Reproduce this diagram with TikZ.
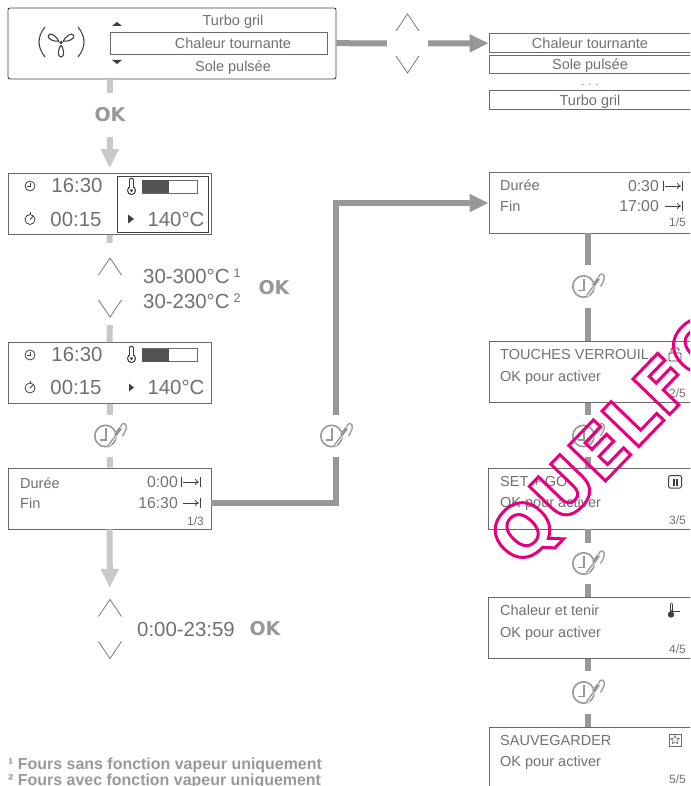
\documentclass[tikz,border=0pt]{standalone}
\usepackage{xcolor}
\usepackage{fontspec}
\setmainfont{Liberation Sans}
\newfontfamily\okfont{DejaVu Sans}[BoldFont={* Bold}]
\usetikzlibrary{arrows.meta,shapes.geometric}

\definecolor{boxgray}{HTML}{6A6A6C}
\definecolor{textgray}{HTML}{707072}
\definecolor{darkflow}{HTML}{98989B}
\definecolor{lightflow}{HTML}{C9C9CB}
\definecolor{iconblack}{HTML}{404042}
\definecolor{stamp}{HTML}{E6007E}

\tikzset{
  screen/.style={draw=boxgray, line width=0.8, inner sep=0, minimum width=203, minimum height=61},
  listbox/.style={draw=boxgray, line width=0.8, inner sep=0, minimum width=203, minimum height=19},
  txt/.style={inner sep=0, text=textgray, text depth=0, text height=10.4, font=\fontsize{14.5}{14.5}\selectfont},
  bigtxt/.style={inner sep=0, text=textgray, text depth=0, text height=14.4, font=\fontsize{20.4}{20.4}\selectfont},
  pagetxt/.style={inner sep=0, text=textgray, anchor=east, font=\fontsize{12}{12}\selectfont},
  oktxt/.style={inner sep=0, text=darkflow, font=\okfont\bfseries\fontsize{19}{19}\selectfont},
  notetxt/.style={inner sep=0, anchor=west, text=darkflow, font=\bfseries\fontsize{15.95}{15.95}\selectfont},
  gap/.style={inner sep=0, minimum width=41, minimum height=82},
  flow/.style={line width=6, darkflow},
  flowlight/.style={line width=6, lightflow},
  flowtip/.style={-{Triangle[width=17,length=19]}},
  chevron/.style={draw=boxgray, line width=0.7},
  icon/.style={iconblack, line width=0.8}
}

% pair of up and down keys
\newcommand{\updown}[2]{
  \draw[chevron] (#1-11.5,#2-12.5) -- (#1,#2-29.5) -- (#1+11.5,#2-12.5);
  \draw[chevron] (#1-11.5,#2+12.5) -- (#1,#2+29.5) -- (#1+11.5,#2+12.5);
}
% clock and probe symbol beside a gap node
\newcommand{\probeicon}[1]{
  \begin{scope}[shift={(#1)}, xshift=-4.5]
    \draw[darkflow, line width=1.6] (0,0) circle (10.7);
    \draw[darkflow, line width=1.5] (0.5,-8) -- (0.5,4) -- (-6,4);
    \draw[white, line width=3.5] (3,9) -- (15,-8);
    \draw[darkflow, line width=1.3] (3,9) -- (12,-3);
    \draw[darkflow, line width=3.4] (10,-1) -- (15,-8);
    \draw[darkflow, line width=1.3] (15,-9) .. controls (16,-14) and (22,-14) .. (20.5,-7) .. controls (20,-4) and (18,-2) .. (17,0);
  \end{scope}
}
\newcommand{\clockicon}[2]{
  \draw[icon] (#1,#2) circle (5);
  \draw[icon] (#1,#2-3) -- (#1,#2) -- (#1-3,#2);
}
\newcommand{\watchicon}[2]{
  \draw[icon] (#1,#2) circle (5);
  \draw[icon] (#1,#2-5) -- (#1,#2-7);
  \draw[icon] (#1,#2) -- (#1+3,#2-3);
}
\newcommand{\thermoglass}[2]{
  \draw[iconblack, line width=4.6, line cap=round] (#1,#2-7) -- (#1,#2+3);
  \fill[iconblack] (#1,#2+3.5) circle (4.6);
  \draw[white, line width=2.4, line cap=round] (#1,#2-7) -- (#1,#2+3);
  \fill[white] (#1,#2+3.5) circle (3.3);
  \fill[iconblack] (#1,#2+3.5) circle (1.6);
}
\newcommand{\thermobar}[2]{
  \thermoglass{#1+1.5}{#2}
  \draw[boxgray, line width=0.6] (#1+12,#2-6.5) rectangle (#1+67,#2+6.5);
  \fill[iconblack!90] (#1+12,#2-6.5) rectangle (#1+39,#2+6.5);
}
\newcommand{\stopmark}[2]{
  \draw[icon, -{To[length=4,width=6]}] (#1,#2) -- (#1+16,#2);
  \draw[icon] (#1+17,#2-5) -- (#1+17,#2+5);
}
\newcommand{\startmark}[2]{
  \draw[icon] (#1,#2-5) -- (#1,#2+5);
}

\begin{document}
\begin{tikzpicture}[x=1pt, y=-1pt]
  \useasboundingbox (0,0) rectangle (690,786);
  \clip (0,0) rectangle (690,786);

  % mode selection
  \node[draw=iconblack, line width=0.9, rounded corners=2, inner sep=0, minimum width=328, minimum height=71] (modebox) at (172,43.5) {};
  \node[draw=boxgray, line width=0.8, inner sep=0, minimum width=217, minimum height=21.5] (modesel) at (218.5,43.2) {};
  \node[txt] (modetop) at (233,20) {Turbo gril};
  \node[txt] (modemid) at (233,43) {Chaleur tournante};
  \node[txt] (modelow) at (233,66) {Sole pulsée};
  \fill[iconblack] (112,26) -- (117,22) -- (122,26) -- cycle;
  \fill[iconblack] (112,60) -- (117,64) -- (122,60) -- cycle;
  % fan symbol
  \draw[iconblack, line width=1.1] (45,27) .. controls (37,37) and (37,47) .. (45,57);
  \draw[iconblack, line width=1.1] (78,27) .. controls (86,37) and (86,47) .. (78,57);
  \foreach \a in {0,120,240}{
    \draw[iconblack, line width=1.1, rotate around={\a:(61,42.5)}] (61,45) .. controls (58,49) and (57,57) .. (61,57) .. controls (65,57) and (64,49) .. (61,45);
  }
  \fill[iconblack] (61,42.5) circle (1.8);

  % list of modes
  \updown{407.5}{43.5}
  \node[gap, minimum height=59] (keysA) at (407.5,43.5) {};
  \node[listbox] (listA) at (590.5,43) {};
  \node[listbox, minimum height=18] (listB) at (590.5,64) {};
  \node[listbox] (listC) at (590.5,100) {};
  \node[txt] (listAtext) at (590,43) {Chaleur tournante};
  \node[txt] (listBtext) at (590,64) {Sole pulsée};
  \node[txt] (listCtext) at (590,100) {Turbo gril};
  \node[inner sep=0, text=textgray, font=\fontsize{11}{11}\selectfont] (listdots) at (590,85) {. . .};

  % temperature screens
  \node[oktxt, minimum height=44] (okA) at (110,115) {OK};
  \node[screen] (tempA) at (109.5,204) {};
  \node[draw=iconblack, line width=0.9, inner sep=0, minimum width=91, minimum height=56] (tempAsel) at (162.5,204) {};
  \node[bigtxt] (timeA) at (77,185) {16:30};
  \node[bigtxt] (lapseA) at (76,219) {00:15};
  \node[bigtxt] (degA) at (176,219) {140°C};
  \clockicon{30}{186}
  \watchicon{30}{219.5}
  \thermobar{130}{187}
  \fill[iconblack] (128,214.5) -- (134,219) -- (128,223.5) -- cycle;

  \updown{110}{287.5}
  \node[gap] (keysB) at (110,284) {};
  \node[bigtxt, anchor=west] (rangeA) at (143,276) {30-300°C\kern4pt\raisebox{6pt}{\fontsize{12.5}{12.5}\selectfont 1}};
  \node[bigtxt, anchor=west] (rangeB) at (143,301) {30-230°C\kern4pt\raisebox{6pt}{\fontsize{12.5}{12.5}\selectfont 2}};
  \node[oktxt] (okB) at (274,288) {OK};

  \node[screen] (tempB) at (109.5,373) {};
  \node[bigtxt] (timeB) at (77,354) {16:30};
  \node[bigtxt] (lapseB) at (76,387) {00:15};
  \node[bigtxt] (degB) at (176,387) {140°C};
  \clockicon{30}{355}
  \watchicon{30}{388}
  \thermobar{130}{355}
  \fill[iconblack] (129,383.5) -- (134,387.5) -- (129,391.5) -- cycle;

  % left duration screen
  \node[gap, minimum height=42] (probeA) at (110,436) {};
  \probeicon{probeA}
  \node[screen] (durA) at (109.5,498.5) {};
  \node[txt, anchor=west] (durAa) at (20,483) {Durée};
  \node[txt, anchor=west] (durAb) at (20,503.5) {Fin};
  \node[txt, anchor=east, font=\fontsize{15.8}{15.8}\selectfont] (durAc) at (178,482) {0:00};
  \node[txt, anchor=east, font=\fontsize{15.8}{15.8}\selectfont] (durAd) at (178,503) {16:30};
  \node[pagetxt] (durAe) at (204,521) {1/3};
  \startmark{181}{482}
  \stopmark{183}{482}
  \stopmark{183}{503}

  \updown{110}{629}
  \node[gap] (keysC) at (110,629) {};
  \node[bigtxt, anchor=west] (rangeC) at (137,629) {0:00-23:59};
  \node[oktxt] (okC) at (265,629) {OK};

  % right column
  \node[screen] (durB) at (590.5,202.5) {};
  \node[txt, anchor=west] (durBa) at (500,185) {Durée};
  \node[txt, anchor=west] (durBb) at (500,206) {Fin};
  \node[txt, anchor=east, font=\fontsize{15.8}{15.8}\selectfont] (durBc) at (659,186) {0:30};
  \node[txt, anchor=east, font=\fontsize{15.8}{15.8}\selectfont] (durBd) at (659,206) {17:00};
  \node[pagetxt] (durBe) at (686,222) {1/5};
  \startmark{663}{186}
  \stopmark{665}{186}
  \stopmark{665}{206}

  \foreach \nm/\xc/\yc/\lab/\pg in {lockS/590.5/372.2/TOUCHES VERROUIL./2,setS/589.5/498.5/SET + GO/3,holdS/589.5/628/Chaleur et tenir/4,saveS/590.5/757.5/SAUVEGARDER/5}{
    \node[screen] (\nm) at (\xc,\yc) {};
    \node[txt, anchor=west] (\nm a) at (500,\yc-17.5) {\lab};
    \node[txt, anchor=west] (\nm b) at (500,\yc+4) {OK pour activer};
    \node[pagetxt] (\nm c) at (686,\yc+21.5) {\pg/5};
  }
  \node[gap, minimum height=43] (probeB) at (588,286.5) {};
  \node[gap, minimum height=42] (probeC) at (588,436) {};
  \node[gap, minimum height=41] (probeD) at (588,563.5) {};
  \node[gap, minimum height=43] (probeE) at (588,692.5) {};
  \node[gap, minimum height=42] (probeF) at (336,436) {};
  \foreach \nm in {probeB,probeC,probeD,probeE,probeF}{\probeicon{\nm}}

  % small symbols of the right column
  \draw[icon, rounded corners=1] (669,353) rectangle (681,361);
  \draw[icon, rounded corners=1.5] (671,353) -- (671,348) -- (679,348) -- (679,351);
  \draw[icon, line width=1, rounded corners=1.5] (668.5,475.5) rectangle (681.5,488);
  \fill[iconblack] (672.5,478.5) rectangle (674.5,485.5);
  \fill[iconblack] (675.7,478.5) rectangle (677.7,485.5);
  \draw[iconblack, line width=3, line cap=round] (671,604) -- (671,612);
  \draw[white, line width=0.8, line cap=round] (671,604) -- (671,610);
  \fill[iconblack] (671,614.5) circle (3.2);
  \draw[icon] (673,611) -- (680,611);
  \draw[boxgray, line width=0.8] (669,734) rectangle (681,746);
  \node[draw=boxgray, line width=0.6, star, star points=5, star point ratio=2.2, inner sep=0, minimum size=9] (savestar) at (675,740) {};

  % connectors
  \draw[flowlight] (modebox.south -| okA) -- (okA);
  \draw[flowlight, flowtip, shorten >=5] (okA) -- (tempA);
  \draw[flowlight] (tempA) -- (keysB);
  \draw[flowlight] (keysB) -- (tempB);
  \draw[flowlight] (tempB) -- (probeA);
  \draw[flowlight] (probeA) -- (durA);
  \draw[flowlight, flowtip] (durA) -- (keysC);
  \draw[flow] (modesel.east -| modebox.east) -- (keysA);
  \draw[flow, flowtip] (keysA) -- (listA);
  \coordinate (bendA) at (336,503);
  \coordinate (bendB) at (336,203);
  \draw[flow] (durA.east |- bendA) -- (bendA) -- (probeF);
  \draw[flow, flowtip] (probeF) -- (bendB) -- (durB.west |- bendB);
  \draw[flow] (durB.south -| probeB) -- (probeB);
  \draw[flow] (probeB) -- (lockS.north -| probeB);
  \draw[flow] (lockS.south -| probeC) -- (probeC);
  \draw[flow] (probeC) -- (setS.north -| probeC);
  \draw[flow] (setS.south -| probeD) -- (probeD);
  \draw[flow] (probeD) -- (holdS.north -| probeD);
  \draw[flow] (holdS.south -| probeE) -- (probeE);
  \draw[flow] (probeE) -- (saveS.north -| probeE);

  % footnotes
  \node[notetxt] (noteA) at (8,765) {¹ Fours sans fonction vapeur uniquement};
  \node[notetxt] (noteB) at (8,781) {² Fours avec fonction vapeur uniquement};

  % outlined stamp across the picture
  \node[inner sep=0, rotate=46, text=stamp, font=\okfont\bfseries\fontsize{70}{70}\selectfont] (quelstamp) at (615,441) {\special{pdf:code 1 Tr 3 w}QUELFO\special{pdf:code 0 Tr}};
\end{tikzpicture}
\end{document}
